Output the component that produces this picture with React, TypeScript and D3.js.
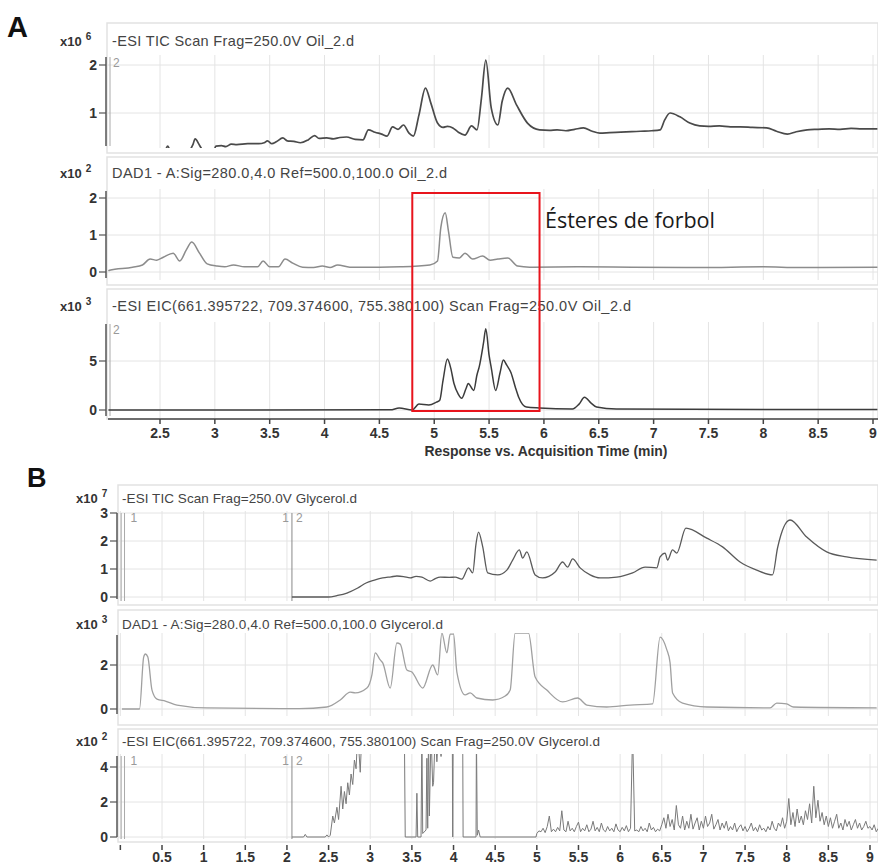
import React from "react";
import * as d3 from "d3";

// ---------- Panel A : Oil_2.d ----------
// TIC (x10^6)
const ticA: [number, number][] = [
  [2.03, 0.1], [2.4, 0.15], [2.55, 0.24], [2.57, 0.31], [2.59, 0.24], [2.75, 0.2],
  [2.8, 0.34], [2.82, 0.46], [2.86, 0.33], [2.9, 0.2], [2.99, 0.22], [3.01, 0.31],
  [3.06, 0.32], [3.1, 0.3], [3.15, 0.35], [3.2, 0.34], [3.3, 0.36], [3.4, 0.36],
  [3.45, 0.38], [3.48, 0.42], [3.52, 0.36], [3.56, 0.4], [3.62, 0.48], [3.66, 0.42],
  [3.72, 0.41], [3.78, 0.38], [3.85, 0.44], [3.91, 0.53], [3.95, 0.47], [4.02, 0.48],
  [4.08, 0.46], [4.14, 0.49], [4.2, 0.5], [4.28, 0.45], [4.35, 0.44], [4.4, 0.65],
  [4.46, 0.6], [4.52, 0.56], [4.57, 0.52], [4.62, 0.71], [4.67, 0.66], [4.72, 0.75],
  [4.77, 0.58], [4.81, 0.52], [4.86, 0.95], [4.92, 1.52], [4.97, 1.2], [5.03, 0.79],
  [5.08, 0.7], [5.12, 0.72], [5.17, 0.69], [5.22, 0.6], [5.28, 0.54], [5.34, 0.73],
  [5.39, 0.65], [5.43, 1.3], [5.47, 2.1], [5.52, 1.1], [5.58, 0.75], [5.62, 1.25],
  [5.67, 1.52], [5.75, 1.17], [5.85, 0.79], [5.96, 0.65], [6.05, 0.64], [6.12, 0.65],
  [6.2, 0.63], [6.28, 0.66], [6.36, 0.69], [6.44, 0.62], [6.51, 0.58], [6.6, 0.59],
  [6.7, 0.6], [6.8, 0.61], [6.88, 0.62], [6.98, 0.63], [7.06, 0.65], [7.1, 0.85],
  [7.15, 1.0], [7.24, 0.92], [7.33, 0.79], [7.42, 0.73], [7.5, 0.72], [7.6, 0.73],
  [7.7, 0.71], [7.79, 0.71], [7.9, 0.7], [8.03, 0.69], [8.12, 0.62], [8.22, 0.56],
  [8.3, 0.61], [8.4, 0.65], [8.5, 0.66], [8.6, 0.67], [8.7, 0.66], [8.8, 0.68],
  [8.9, 0.67], [9.04, 0.67],
];

// DAD1 280 nm (x10^2)
const dadA: [number, number][] = [
  [2.03, 0.03], [2.04, 0.05], [2.25, 0.13], [2.34, 0.19], [2.41, 0.35], [2.47, 0.32],
  [2.53, 0.4], [2.62, 0.51], [2.68, 0.3], [2.74, 0.6], [2.79, 0.81], [2.86, 0.51],
  [2.93, 0.22], [3.02, 0.16], [3.09, 0.14], [3.17, 0.19], [3.27, 0.14], [3.39, 0.14],
  [3.44, 0.3], [3.5, 0.14], [3.58, 0.14], [3.64, 0.35], [3.71, 0.24], [3.8, 0.13],
  [3.9, 0.12], [3.98, 0.16], [4.05, 0.12], [4.12, 0.19], [4.23, 0.13], [4.5, 0.13],
  [4.69, 0.14], [4.96, 0.19], [5.03, 0.3], [5.06, 1.2], [5.1, 1.6], [5.13, 1.1],
  [5.17, 0.4], [5.23, 0.38], [5.28, 0.51], [5.35, 0.35], [5.44, 0.43], [5.51, 0.32],
  [5.58, 0.35], [5.67, 0.38], [5.76, 0.16], [5.87, 0.13], [6.33, 0.14], [6.8, 0.13],
  [7.42, 0.12], [8.0, 0.14], [8.33, 0.12], [9.04, 0.13],
];

// EIC phorbol esters (x10^3)
const eicA: [number, number][] = [
  [2.03, 0], [4.6, 0.02], [4.68, 0.2], [4.8, 0], [4.86, 0.6], [4.95, 0.5], [5.02, 0.8],
  [5.05, 1.0], [5.08, 3.0], [5.12, 5.2], [5.15, 4.3], [5.18, 2.7], [5.22, 1.6],
  [5.25, 1.2], [5.29, 2.2], [5.31, 2.7], [5.36, 2.0], [5.39, 3.6], [5.41, 4.4],
  [5.45, 6.9], [5.47, 8.3], [5.5, 5.6], [5.52, 4.3], [5.56, 2.0], [5.6, 3.8],
  [5.63, 5.1], [5.66, 4.6], [5.7, 3.8], [5.74, 2.3], [5.77, 1.3], [5.84, 0.3],
  [5.96, 0.2], [6.26, 0.1], [6.32, 0.6], [6.37, 1.3], [6.43, 0.7], [6.48, 0.3],
  [6.66, 0.1], [9.04, 0.05],
];

// ---------- Panel B : Glycerol.d ----------
// TIC (x10^7)
const ticB: [number, number][] = [
  [2.06, 0], [2.5, 0], [2.6, 0.05], [2.72, 0.14], [2.85, 0.32], [2.95, 0.5],
  [3.05, 0.6], [3.15, 0.68], [3.25, 0.72], [3.32, 0.75], [3.4, 0.73], [3.48, 0.68],
  [3.55, 0.74], [3.62, 0.71], [3.72, 0.57], [3.78, 0.66], [3.84, 0.71], [3.95, 0.7],
  [4.02, 0.71], [4.1, 0.64], [4.18, 1.04], [4.23, 0.86], [4.27, 1.9], [4.3, 2.32],
  [4.35, 1.8], [4.41, 0.86], [4.53, 0.79], [4.64, 0.96], [4.71, 1.32], [4.79, 1.68],
  [4.83, 1.39], [4.88, 1.61], [4.98, 0.79], [5.07, 0.68], [5.22, 0.89], [5.31, 1.25],
  [5.37, 1.07], [5.43, 1.36], [5.52, 1.04], [5.64, 0.79], [5.76, 0.68], [5.96, 0.71],
  [6.15, 0.86], [6.3, 1.07], [6.44, 1.04], [6.48, 1.43], [6.54, 1.57], [6.57, 1.32],
  [6.63, 1.68], [6.68, 1.57], [6.79, 2.46], [7.04, 2.1], [7.23, 1.79], [7.44, 1.25],
  [7.64, 0.96], [7.83, 0.79], [7.89, 1.75], [8.04, 2.75], [8.24, 2.14], [8.48, 1.61],
  [8.72, 1.43], [9.08, 1.32],
];

// DAD1 280 nm (x10^3)
const dadB: [number, number][] = [
  [0.02, 0], [0.23, 0], [0.28, 2.36], [0.3, 2.5], [0.33, 2.36], [0.38, 0.86],
  [0.44, 0.45], [0.54, 0.36], [0.68, 0.18], [1.04, 0.05], [2.15, 0.02], [2.48, 0.09],
  [2.64, 0.41], [2.76, 0.77], [2.82, 0.73], [2.96, 0.95], [3.02, 1.55], [3.06, 2.55],
  [3.12, 2.23], [3.15, 2.1], [3.24, 0.95], [3.32, 3.0], [3.36, 2.95], [3.44, 1.77],
  [3.5, 1.68], [3.63, 0.95], [3.75, 2.0], [3.81, 1.55], [3.86, 3.45], [3.92, 2.55],
  [3.96, 3.4], [4.0, 3.4], [4.04, 1.68], [4.14, 0.64], [4.2, 0.73], [4.28, 0.5],
  [4.47, 0.41], [4.62, 0.59], [4.68, 0.86], [4.74, 3.45], [4.9, 3.45], [4.98, 1.45],
  [5.12, 0.86], [5.31, 0.32], [5.49, 0.5], [5.6, 0.18], [5.84, 0.09], [6.12, 0.18],
  [6.39, 0.23], [6.48, 3.27], [6.56, 2.7], [6.6, 2.1], [6.63, 0.73], [6.75, 0.27],
  [7.04, 0.09], [7.8, 0.05], [7.88, 0.27], [8.0, 0.23], [8.08, 0.09], [9.08, 0.05],
];

// EIC phorbol esters (x10^2), segment 2 up to 5 min
const eicB: [number, number][] = [
  [2.06, 0], [2.2, 0], [2.22, 0.15], [2.24, 0], [2.46, 0], [2.48, 0.12], [2.5, 0],
  [2.52, 0.1], [2.55, 1.2], [2.57, 0.8], [2.6, 1.7], [2.62, 1.0], [2.65, 2.9],
  [2.67, 1.6], [2.69, 2.6], [2.71, 1.9], [2.73, 3.1], [2.75, 2.4], [2.77, 3.6],
  [2.79, 3.0], [2.81, 4.4], [2.83, 3.9], [2.85, 6], [2.88, 3.7], [2.9, 6], [3.41, 6],
  [3.42, 0], [3.55, 0], [3.56, 2.5], [3.57, 0], [3.61, 0], [3.62, 6], [3.63, 0.2],
  [3.67, 0.4], [3.68, 4.5], [3.69, 0.5], [3.7, 6], [3.71, 1.2], [3.73, 6], [3.75, 2.9],
  [3.76, 3.1], [3.78, 6], [3.8, 4.3], [3.82, 6], [3.85, 4.6], [3.88, 6], [3.985, 6],
  [3.99, 0], [3.995, 6], [4.11, 6], [4.115, 0], [4.27, 0], [4.275, 6], [4.285, 0.1],
  [4.3, 0.4], [4.32, 0], [4.99, 0],
];
// EIC noise from 5.0 min, one reading per scan
const eicBNoiseStart = 5.0;
const eicBScan = 0.025;
const eicBNoise = [
  0.2, 0.35, 0.3, 0.5, 0.25, 0.6, 1.2, 0.3, 0.45, 0.3,
  0.55, 0.35, 1.5, 0.4, 0.3, 0.9, 0.35, 0.5, 0.3, 0.6,
  0.85, 0.3, 0.5, 0.35, 0.7, 0.3, 0.45, 0.9, 0.35, 0.55,
  0.3, 0.8, 0.4, 0.3, 0.6, 0.35, 0.5, 0.3, 0.75, 0.4,
  0.3, 0.55, 0.35, 0.65, 0.3, 0.5, 6.0, 0.35, 0.4, 0.3,
  0.6, 0.35, 0.5, 0.3, 0.8, 0.4, 0.55, 0.3, 0.45, 0.35,
  0.7, 1.1, 0.5, 1.3, 0.6, 1.0, 0.4, 1.8, 0.7, 0.5,
  1.2, 0.4, 0.9, 0.5, 1.3, 0.45, 0.8, 1.1, 0.4, 0.9,
  0.5, 1.2, 0.6, 0.8, 1.3, 0.45, 0.7, 1.0, 0.4, 0.8,
  0.5, 0.9, 0.35, 0.6, 0.4, 0.8, 0.3, 0.55, 0.7, 0.35,
  0.6, 0.3, 0.5, 0.8, 0.35, 0.55, 0.3, 0.7, 0.4, 0.5,
  0.3, 0.6, 0.4, 0.9, 0.5, 0.35, 0.8, 0.6, 1.1, 0.5,
  0.9, 2.2, 0.7, 1.4, 0.6, 1.6, 0.8, 1.2, 0.7, 1.5,
  1.0, 1.9, 0.8, 2.9, 1.1, 2.1, 0.9, 1.4, 0.7, 1.2,
  0.6, 1.1, 0.5, 0.9, 1.3, 0.5, 0.8, 0.4, 1.0, 0.6,
  0.9, 0.4, 0.7, 1.0, 0.5, 0.8, 0.4, 0.6, 0.9, 0.5,
  0.6, 0.4, 0.7, 0.3, 0.5,
];

const timeTicksA = [2.5, 3, 3.5, 4, 4.5, 5, 5.5, 6, 6.5, 7, 7.5, 8, 8.5, 9];
const timeTicksB = [0, 0.5, 1, 1.5, 2, 2.5, 3, 3.5, 4, 4.5, 5, 5.5, 6, 6.5, 7, 7.5, 8, 8.5, 9];
const segStartB = 2.06;
const segMarkB = [0.01, 0.05];
const esterWindow = [4.8, 5.96];

const FONT = "'Liberation Sans', Arial, sans-serif";

type Pane = {
  title: string;
  titleW: number;
  exp: string;
  data: [number, number][];
  ticks: number[];
  vRange: [number, number]; // two tick values
  yPix: [number, number]; // their pixel rows
  box: [number, number];
  plot: [number, number];
  titleY: number;
  color: string;
  width: number;
  smooth: boolean;
  seg?: boolean;
};

const x = d3.scaleLinear().domain([2.5, 9]).range([160, 873]);
const xB = d3.scaleLinear().domain([0.5, 9]).range([162, 870]);

const panesA: Pane[] = [
  { title: "-ESI TIC Scan Frag=250.0V Oil_2.d", titleW: 242, exp: "6", data: ticA, ticks: [1, 2],
    vRange: [1, 2], yPix: [113, 65], box: [23, 153], plot: [55, 148], titleY: 46,
    color: "#4a4a4a", width: 1.7, smooth: true, seg: true },
  { title: "DAD1 - A:Sig=280.0,4.0  Ref=500.0,100.0 Oil_2.d", titleW: 335, exp: "2", data: dadA,
    ticks: [0, 1, 2], vRange: [0, 2], yPix: [272, 198], box: [157, 285], plot: [189, 280], titleY: 178,
    color: "#8c8c8c", width: 1.5, smooth: true },
  { title: "-ESI EIC(661.395722, 709.374600, 755.380100) Scan Frag=250.0V Oil_2.d", titleW: 519,
    exp: "3", data: eicA, ticks: [0, 5], vRange: [0, 5], yPix: [410, 361], box: [289, 419],
    plot: [322, 418], titleY: 311, color: "#3c3c3c", width: 1.5, smooth: true, seg: true },
];

const noisePts: [number, number][] = eicBNoise.map((v, i) => [eicBNoiseStart + i * eicBScan, v]);

const panesB: Pane[] = [
  { title: "-ESI TIC Scan Frag=250.0V Glycerol.d", titleW: 235, exp: "7", data: ticB, ticks: [0, 1, 2, 3],
    vRange: [0, 3], yPix: [597, 513], box: [485, 605], plot: [511, 601], titleY: 503,
    color: "#5a5a5a", width: 1.3, smooth: true, seg: true },
  { title: "DAD1 - A:Sig=280.0,4.0  Ref=500.0,100.0 Glycerol.d", titleW: 321, exp: "3", data: dadB,
    ticks: [0, 2], vRange: [0, 2], yPix: [709, 665], box: [610, 725], plot: [633, 716], titleY: 629,
    color: "#a0a0a0", width: 1.3, smooth: true },
  { title: "-ESI EIC(661.395722, 709.374600, 755.380100) Scan Frag=250.0V Glycerol.d", titleW: 478,
    exp: "2", data: [...eicB, ...noisePts], ticks: [0, 2, 4], vRange: [0, 4], yPix: [837, 767],
    box: [729, 842], plot: [754, 839], titleY: 746, color: "#7a7a7a", width: 1.0, smooth: false, seg: true },
];

function PaneView({ p, id, xs, left, axisX, titleX, expX, grid, segB, titleSize }: {
  p: Pane; id: string; xs: d3.ScaleLinear<number, number>; left: number; axisX: number;
  titleX: number; expX: number; grid: number[]; segB: boolean; titleSize: number;
}) {
  const y = d3.scaleLinear().domain(p.vRange).range(p.yPix);
  const line = d3.line<[number, number]>()
    .x((d) => xs(d[0]))
    .y((d) => y(d[1]))
    .curve(p.smooth ? d3.curveMonotoneX : d3.curveLinear);
  const [py0, py1] = p.plot;
  return (
    <g>
      <rect x={left} y={p.box[0]} width={878 - left} height={p.box[1] - p.box[0]}
        fill="none" stroke="#e2e2e2" strokeWidth={1.5} />
      <text x={expX} y={p.titleY} fontSize={13} fontWeight="bold" fill="#333">
        x10<tspan dx={4} dy={-6} fontSize={10}>{p.exp}</tspan>
      </text>
      <text x={titleX} y={p.titleY} fontSize={titleSize} fill="#444" textLength={p.titleW}
        lengthAdjust="spacing">{p.title}</text>
      <clipPath id={id}>
        <rect x={left} y={py0} width={878 - left} height={py1 - py0} />
      </clipPath>
      {grid.map((t) => (
        <line key={t} x1={xs(t)} x2={xs(t)} y1={py0} y2={py1} stroke="#e4e4e4" />
      ))}
      {p.ticks.map((v) => (
        <line key={v} x1={axisX} x2={878} y1={y(v)} y2={y(v)} stroke="#e4e4e4" />
      ))}
      {p.seg && !segB && (
        <g>
          <line x1={axisX + 4} x2={axisX + 4} y1={py0 + 2} y2={py1 - 2} stroke="#aaa" />
          <text x={axisX + 7} y={py0 + 12} fontSize={12} fill="#999">2</text>
        </g>
      )}
      {p.seg && segB && (
        <g>
          {segMarkB.map((t) => (
            <line key={t} x1={xs(t)} x2={xs(t)} y1={py0 + 2} y2={py1} stroke="#aaa" />
          ))}
          <text x={xs(segMarkB[1]) + 6} y={py0 + 11} fontSize={12} fill="#999">1</text>
          <line x1={xs(segStartB)} x2={xs(segStartB)} y1={py0 + 2} y2={py1} stroke="#888" />
          <text x={xs(segStartB) - 3} y={py0 + 11} fontSize={12} fill="#999" textAnchor="end">1</text>
          <text x={xs(segStartB) + 4} y={py0 + 11} fontSize={12} fill="#999">2</text>
        </g>
      )}
      <path d={line(p.data) ?? ""} fill="none" stroke={p.color} strokeWidth={p.width}
        strokeLinejoin="round" clipPath={`url(#${id})`} />
      <line x1={axisX} x2={axisX} y1={py0 + 2} y2={py1 - 2} stroke="#555" strokeWidth={1.5} />
      {p.ticks.map((v) => (
        <g key={v}>
          <line x1={axisX - 7} x2={axisX} y1={y(v)} y2={y(v)} stroke="#555" strokeWidth={1.2} />
          <text x={axisX - 9} y={y(v) + 5} fontSize={14} fontWeight="bold" fill="#333" textAnchor="end">
            {v}
          </text>
        </g>
      ))}
    </g>
  );
}

export default function App() {
  return (
    <svg width={878} height={867} style={{ position: "absolute", left: 0, top: 0, background: "#fff" }}
      fontFamily={FONT}>
      <rect width={878} height={867} fill="#fff" />
      <text x={7} y={37} fontSize={29} fontWeight="900" fill="#111">A</text>
      <text x={27} y={487} fontSize={27} fontWeight="900" fill="#111">B</text>

      {panesA.map((p, i) => (
        <PaneView key={i} p={p} id={`ca${i}`} xs={x} left={107} axisX={106} titleX={112}
          expX={60} grid={timeTicksA} segB={false} titleSize={14.5} />
      ))}
      {/* time axis A */}
      <line x1={108} x2={878} y1={419} y2={419} stroke="#444" strokeWidth={1.5} />
      {timeTicksA.map((t) => (
        <g key={t}>
          <line x1={x(t)} x2={x(t)} y1={419} y2={424} stroke="#444" strokeWidth={1.5} />
          <text x={x(t)} y={438} fontSize={14} fontWeight="bold" fill="#333" textAnchor="middle">{t}</text>
        </g>
      ))}
      <text x={546} y={456} fontSize={14} fontWeight="bold" fill="#333" textAnchor="middle"
        textLength={243} lengthAdjust="spacingAndGlyphs">
        Response vs. Acquisition Time (min)
      </text>

      {/* phorbol ester window */}
      <rect x={x(esterWindow[0])} y={193} width={x(esterWindow[1]) - x(esterWindow[0])} height={218}
        fill="none" stroke="#e8141c" strokeWidth={2} />
      <text x={545} y={228} fontSize={21} fill="#1a1a1a" fontFamily="'Open Sans', 'Noto Sans', sans-serif"
        textLength={170} lengthAdjust="spacingAndGlyphs">
        Ésteres de forbol
      </text>

      {panesB.map((p, i) => (
        <PaneView key={i} p={p} id={`cb${i}`} xs={xB} left={118} axisX={117} titleX={122}
          expX={76} grid={timeTicksB} segB={true} titleSize={13.5} />
      ))}
      {timeTicksB.map((t) => (
        <g key={t}>
          <line x1={xB(t)} x2={xB(t)} y1={845} y2={850} stroke="#444" strokeWidth={1.5} />
          {t > 0 && (
            <text x={xB(t)} y={862} fontSize={14} fontWeight="bold" fill="#333" textAnchor="middle">{t}</text>
          )}
        </g>
      ))}
    </svg>
  );
}
